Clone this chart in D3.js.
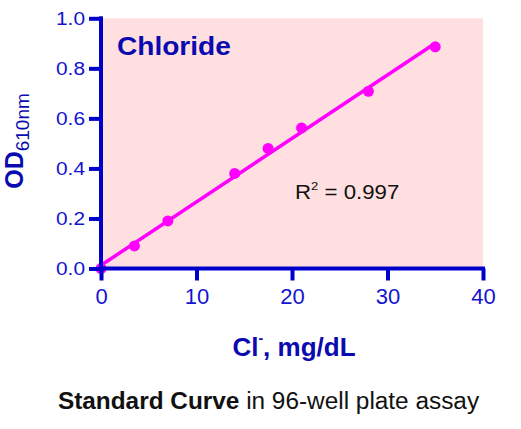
<!DOCTYPE html>
<html>
<head>
<meta charset="utf-8">
<script src="https://cdn.jsdelivr.net/npm/d3@7"></script>
<style>
  html, body { margin: 0; padding: 0; background: #fff; }
  svg { display: block; font-family: "Liberation Sans", Arial, Helvetica, sans-serif; }
</style>
</head>
<body>
<svg id="chart" width="521" height="429"></svg>
<script>
// ---- data ----
const concentrations = [0, 3.5, 7, 14, 17.5, 21, 28, 35];        // Cl-, mg/dL
const odValues       = [0.0, 0.09, 0.19, 0.38, 0.48, 0.562, 0.708, 0.886]; // OD610nm
const xTicks = [0, 10, 20, 30, 40];
const yTicks = [0, 0.2, 0.4, 0.6, 0.8, 1.0];
const rSquaredLabel = "0.997";

// ---- layout ----
const svg = d3.select("#chart");
const blue = "#0000CC";
const tickBlue = "#1414D2";
const titleBlue = "#0A0AB0";
const magenta = "#FF00FF";

const x = d3.scaleLinear().domain([0, 40]).range([101, 483]);
const y = d3.scaleLinear().domain([0, 1]).range([268.5, 18.3]);

// background
svg.append("rect")
  .attr("x", x(0)).attr("y", y(1))
  .attr("width", x(40) - x(0)).attr("height", y(0) - y(1))
  .attr("fill", "#FFDFDF");

// regression line
const n = concentrations.length;
const mx = d3.mean(concentrations), my = d3.mean(odValues);
let sxy = 0, sxx = 0;
for (let i = 0; i < n; i++) {
  sxy += (concentrations[i] - mx) * (odValues[i] - my);
  sxx += (concentrations[i] - mx) ** 2;
}
const slope = sxy / sxx, intercept = my - slope * mx;
const xr = d3.extent(concentrations);
svg.append("path")
  .attr("d", d3.line()([[x(xr[0]), y(intercept + slope * xr[0])], [x(xr[1]), y(intercept + slope * xr[1])]]))
  .attr("stroke", magenta).attr("stroke-width", 3.5).attr("fill", "none");

// points
svg.append("g").selectAll("circle")
  .data(concentrations.map((c, i) => [c, odValues[i]]))
  .join("circle")
  .attr("cx", d => x(d[0])).attr("cy", d => y(d[1]))
  .attr("r", 5.5).attr("fill", magenta);

// axes
const xAxis = svg.append("g")
  .attr("transform", `translate(0,${y(0)})`)
  .call(d3.axisBottom(x).tickValues(xTicks).tickSize(12).tickPadding(8).tickFormat(d3.format("d")));
const yAxis = svg.append("g")
  .attr("transform", `translate(${x(0)},0)`)
  .call(d3.axisLeft(y).tickValues(yTicks).tickSize(12).tickPadding(4).tickFormat(d3.format(".1f")));

[xAxis, yAxis].forEach(g => {
  g.select(".domain").attr("stroke", blue).attr("stroke-width", 4)
    .attr("d", g === xAxis ? `M${x(0) - 2},0H${x(40) + 2}` : `M0,${y(0) + 2}V${y(1) - 2}`);
  g.selectAll(".tick line").attr("stroke", blue).attr("stroke-width", 4);
  g.selectAll(".tick text").attr("fill", tickBlue).attr("font-family", "Liberation Sans, Arial, sans-serif");
});
xAxis.selectAll(".tick text").attr("font-size", 22);
const ySx = 1.16;
yAxis.selectAll(".tick text").attr("font-size", 18)
  .attr("x", -16 / ySx)
  .attr("transform", `scale(${ySx},1)`);

// Chloride title
svg.append("text")
  .attr("transform", `translate(117,54.5) scale(1.08,1)`)
  .attr("font-size", 26).attr("font-weight", "bold").attr("fill", titleBlue)
  .text("Chloride");

// R² label
const r2 = svg.append("text")
  .attr("transform", `translate(295,198.5) scale(1.14,1)`)
  .attr("font-size", 19.5).attr("fill", "#111");
r2.append("tspan").text("R");
r2.append("tspan").attr("font-size", 11.5).attr("dy", -8.5).text("2");
r2.append("tspan").attr("dy", 8.5).text(" = " + rSquaredLabel);

// y-axis label
const yl = svg.append("text")
  .attr("transform", `translate(23,141) rotate(-90)`)
  .attr("text-anchor", "middle")
  .attr("fill", titleBlue);
yl.append("tspan").attr("font-size", 25).attr("font-weight", "bold").text("OD");
yl.append("tspan").attr("font-size", 19).attr("dy", 6).text("610nm");

// x-axis label
const xl = svg.append("text")
  .attr("x", 294).attr("y", 356)
  .attr("text-anchor", "middle")
  .attr("font-size", 26).attr("font-weight", "bold").attr("fill", titleBlue);
xl.append("tspan").text("Cl");
xl.append("tspan").attr("font-size", 14).attr("dy", -13).text("-");
xl.append("tspan").attr("dy", 13).text(", mg/dL");

// caption
const cap = svg.append("text")
  .attr("transform", `translate(268.5,409) scale(1.06,1)`)
  .attr("text-anchor", "middle")
  .attr("font-size", 23).attr("fill", "#111");
cap.append("tspan").attr("font-weight", "bold").text("Standard Curve");
cap.append("tspan").text(" in 96-well plate assay");
</script>
</body>
</html>
